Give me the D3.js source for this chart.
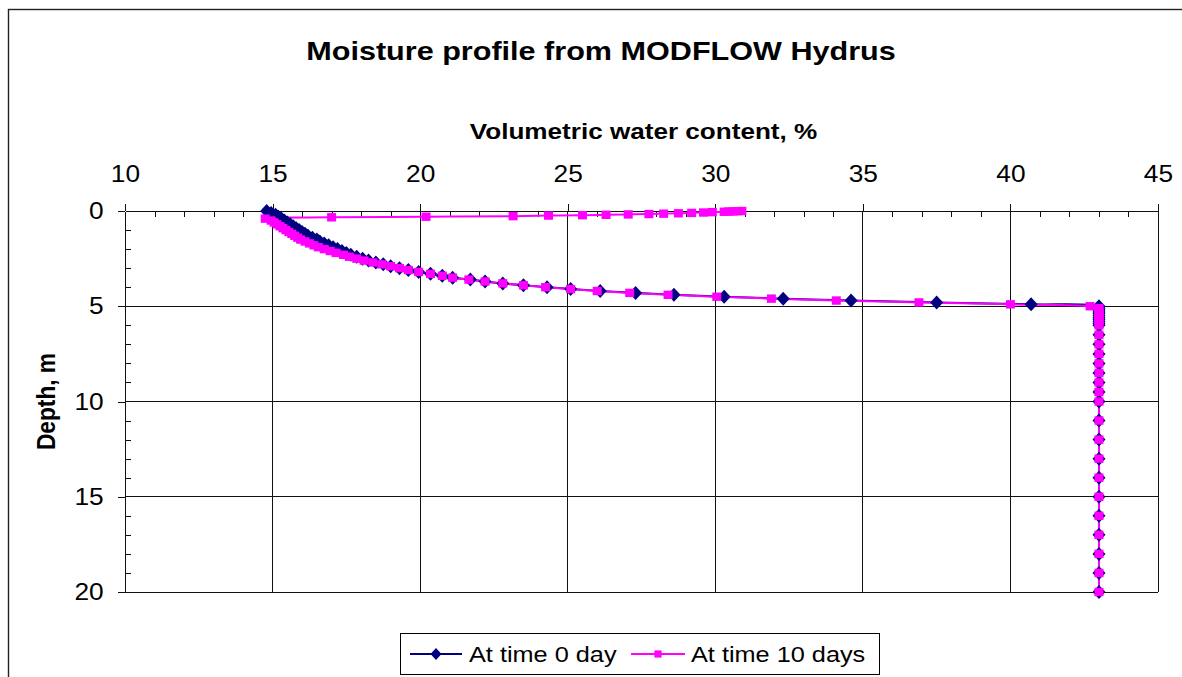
<!DOCTYPE html>
<html>
<head>
<meta charset="utf-8">
<script src="https://cdn.jsdelivr.net/npm/d3@7"></script>
<style>
  body { margin: 0; background: #fff; }
  svg { display: block; font-family: "Liberation Sans", Arial, sans-serif; }
</style>
</head>
<body>
<svg id="chart"></svg>
<script>
// Depth nodes (m) and volumetric water content (%) for each profile
const depth0 = [0, 0.1, 0.2, 0.3, 0.4, 0.5, 0.6, 0.7, 0.8, 0.9,
  1.0, 1.1, 1.2, 1.3, 1.4, 1.5, 1.6, 1.7, 1.8, 1.9,
  2.0, 2.1, 2.2, 2.3, 2.4, 2.5, 2.6, 2.7, 2.8, 2.9,
  3.0, 3.1, 3.2, 3.3, 3.4, 3.5, 3.6, 3.7, 3.8, 3.9,
  4.0, 4.1, 4.2, 4.3, 4.4, 4.5, 4.6, 4.7, 4.8, 4.9,
  5.0, 5.1, 5.2, 5.3, 5.4, 5.5, 5.6, 5.7, 5.8, 5.9, 6.0,
  6.5, 7, 7.5, 8, 8.5, 9, 9.5, 10,
  11, 12, 13, 14, 15, 16, 17, 18, 19, 20];
const theta0 = [14.8, 14.95, 15.1, 15.2, 15.3, 15.4, 15.5, 15.6, 15.7, 15.8,
  15.9, 16.0, 16.1, 16.2, 16.35, 16.5, 16.6, 16.75, 16.9, 17.05,
  17.2, 17.35, 17.5, 17.65, 17.85, 18.05, 18.25, 18.5, 18.75, 19.0,
  19.3, 19.6, 19.95, 20.35, 20.75, 21.1, 21.7, 22.2, 22.8, 23.5,
  24.3, 25.1, 26.1, 27.3, 28.6, 30.3, 32.3, 34.6, 37.5, 40.7,
  43.0, 43.0, 43.0, 43.0, 43.0, 43.0, 43.0, 43.0, 43.0, 43.0, 43.0,
  43.0, 43.0, 43.0, 43.0, 43.0, 43.0, 43.0, 43.0,
  43.0, 43.0, 43.0, 43.0, 43.0, 43.0, 43.0, 43.0, 43.0, 43.0];

const depth10 = [0, 0.01, 0.02, 0.03, 0.04, 0.06, 0.08, 0.1, 0.12, 0.14,
  0.16, 0.18, 0.2, 0.22, 0.24, 0.27, 0.3, 0.33,
  0.4, 0.5, 0.6, 0.7, 0.8, 0.9,
  1.0, 1.1, 1.2, 1.3, 1.4, 1.5, 1.6, 1.7, 1.8, 1.9,
  2.0, 2.1, 2.2, 2.3, 2.4, 2.5, 2.6, 2.7, 2.8, 2.9,
  3.0, 3.1, 3.2, 3.3, 3.4, 3.5, 3.6, 3.7, 3.8, 3.9,
  4.0, 4.1, 4.2, 4.3, 4.4, 4.5, 4.6, 4.7, 4.8, 4.9,
  5.0, 5.1, 5.2, 5.3, 5.4, 5.5, 5.6, 5.7, 5.8, 5.9, 6.0,
  6.5, 7, 7.5, 8, 8.5, 9, 9.5, 10,
  11, 12, 13, 14, 15, 16, 17, 18, 19, 20];
const theta10 = [30.9, 30.75, 30.6, 30.45, 30.3, 29.9, 29.6, 29.2, 28.75, 28.25,
  27.75, 27.05, 26.3, 25.5, 24.35, 23.15, 20.2, 17.0,
  14.75, 14.95, 15.05, 15.15, 15.25, 15.35,
  15.45, 15.55, 15.65, 15.75, 15.85, 15.95, 16.1, 16.25, 16.4, 16.55,
  16.75, 16.95, 17.15, 17.4, 17.6, 17.85, 18.1, 18.4, 18.7, 19.0,
  19.3, 19.6, 19.95, 20.35, 20.75, 21.1, 21.65, 22.2, 22.8, 23.5,
  24.25, 25.1, 26.0, 27.1, 28.4, 30.05, 31.9, 34.1, 36.9, 40.0,
  42.7, 43.0, 43.0, 43.0, 43.0, 43.0, 43.0, 43.0, 43.0, 43.0, 43.0,
  43.0, 43.0, 43.0, 43.0, 43.0, 43.0, 43.0, 43.0,
  43.0, 43.0, 43.0, 43.0, 43.0, 43.0, 43.0, 43.0, 43.0, 43.0];

const xTicks = [10, 15, 20, 25, 30, 35, 40, 45];
const yTicks = [0, 5, 10, 15, 20];
const seriesNames = ["At time 0 day", "At time 10 days"];

const width = 1182, height = 677;
const margin = { top: 211, right: 24, bottom: 85, left: 125 };
const sx = 1.12; // the source picture is stretched horizontally

const svg = d3.select("#chart")
  .attr("width", width)
  .attr("height", height)
  .attr("viewBox", [0, 0, width, height]);

// outer chart frame (cut off on right and bottom)
svg.append("rect")
  .attr("x", 8.5).attr("y", 9.5)
  .attr("width", 1200).attr("height", 700)
  .attr("fill", "#fff")
  .attr("stroke", "#222")
  .attr("stroke-width", 1.4);

const x = d3.scaleLinear().domain([10, 45]).range([margin.left, width - margin.right]);
const y = d3.scaleLinear().domain([0, 20]).range([margin.top, height - margin.bottom]);

// gridlines
svg.append("g")
  .selectAll("line")
  .data(xTicks.slice(1))
  .join("line")
  .attr("x1", d => x(d)).attr("x2", d => x(d))
  .attr("y1", y(0)).attr("y2", y(20))
  .attr("stroke", "#111").attr("stroke-width", 1).attr("shape-rendering", "crispEdges");

svg.append("g")
  .selectAll("line")
  .data(yTicks.slice(1))
  .join("line")
  .attr("x1", x(10)).attr("x2", x(45))
  .attr("y1", d => y(d)).attr("y2", d => y(d))
  .attr("stroke", "#111").attr("stroke-width", 1).attr("shape-rendering", "crispEdges");

// axes
const minorX = d3.range(10, 46, 1).filter(d => d % 5 !== 0);
const minorY = d3.range(0, 21, 1).filter(d => d % 5 !== 0);

const xAxis = svg.append("g")
  .attr("transform", `translate(0,${y(0)})`)
  .call(d3.axisTop(x).tickValues(xTicks).tickSizeInner(7).tickSizeOuter(0).tickPadding(22));
svg.append("g")
  .attr("transform", `translate(0,${y(0)})`)
  .call(d3.axisBottom(x).tickValues(minorX).tickSize(6).tickFormat(""))
  .call(g => g.select(".domain").remove());

const yAxis = svg.append("g")
  .attr("transform", `translate(${x(10)},0)`)
  .call(d3.axisLeft(y).tickValues(yTicks).tickSizeInner(7).tickSizeOuter(0).tickPadding(12));
svg.append("g")
  .attr("transform", `translate(${x(10)},0)`)
  .call(d3.axisRight(y).tickValues(minorY).tickSize(6).tickFormat(""))
  .call(g => g.select(".domain").remove());

svg.selectAll(".tick line, .domain")
  .attr("stroke", "#111")
  .attr("shape-rendering", "crispEdges");

[xAxis, yAxis].forEach(a => a.selectAll("text")
  .attr("fill", "#000")
  .style("font-size", "23.5px")
  .style("font-family", "'Liberation Sans', Arial, sans-serif")
  .attr("transform", `scale(${sx},1)`));

// titles
svg.append("text")
  .attr("transform", `translate(601,59.5) scale(1.15,1)`)
  .attr("text-anchor", "middle")
  .style("font-size", "26.6px")
  .style("font-weight", "bold")
  .text("Moisture profile from MODFLOW Hydrus");

svg.append("text")
  .attr("transform", `translate(${(x(10) + x(45)) / 2 + 2},138.5) scale(1.15,1)`)
  .attr("text-anchor", "middle")
  .style("font-size", "22.7px")
  .style("font-weight", "bold")
  .text("Volumetric water content, %");

svg.append("text")
  .attr("transform", `translate(55,${(y(0) + y(20)) / 2}) scale(1.15,1) rotate(-90)`)
  .attr("text-anchor", "middle")
  .style("font-size", "22.7px")
  .style("font-weight", "bold")
  .text("Depth, m");

// series
const s0 = depth0.map((d, i) => ({ d, t: theta0[i] }));
const s10 = depth10.map((d, i) => ({ d, t: theta10[i] }));
const colors = ["#000080", "#FF00FF"];

const line = d3.line()
  .x(p => x(p.t))
  .y(p => y(p.d))
  .curve(d3.curveCatmullRom.alpha(0.5));

const diamond = "M0,-7L6.5,0L0,7L-6.5,0Z";
const square = "M-4.5,-4.2H4.5V4.2H-4.5Z";

svg.append("path").datum(s0)
  .attr("d", line).attr("fill", "none")
  .attr("stroke", colors[0]).attr("stroke-width", 2);
svg.append("path").datum(s10)
  .attr("d", line).attr("fill", "none")
  .attr("stroke", colors[1]).attr("stroke-width", 2);

svg.append("g").selectAll("path")
  .data(s0)
  .join("path")
  .attr("transform", p => `translate(${x(p.t)},${y(p.d)})`)
  .attr("d", diamond)
  .attr("fill", colors[0]);

svg.append("g").selectAll("path")
  .data(s10)
  .join("path")
  .attr("transform", p => `translate(${x(p.t)},${y(p.d)})`)
  .attr("d", square)
  .attr("fill", colors[1]);

// legend
const legend = svg.append("g");
legend.append("rect")
  .attr("x", 400.5).attr("y", 633.5)
  .attr("width", 479).attr("height", 41)
  .attr("fill", "#fff").attr("stroke", "#000").attr("stroke-width", 1);

const items = [
  { name: seriesNames[0], x0: 410, x1: 462, tx: 469, mark: "M0,-6L5.5,0L0,6L-5.5,0Z" },
  { name: seriesNames[1], x0: 631, x1: 685, tx: 691, mark: "M-3.6,-3.6H3.6V3.6H-3.6Z" }
];
items.forEach((it, i) => {
  legend.append("line")
    .attr("x1", it.x0).attr("x2", it.x1)
    .attr("y1", 654).attr("y2", 654)
    .attr("stroke", colors[i]).attr("stroke-width", 2);
  legend.append("path")
    .attr("transform", `translate(${(it.x0 + it.x1) / 2},654)`)
    .attr("d", it.mark)
    .attr("fill", colors[i]);
  legend.append("text")
    .attr("transform", `translate(${it.tx},662) scale(1.15,1)`)
    .style("font-size", "22px")
    .text(it.name);
});
</script>
</body>
</html>
